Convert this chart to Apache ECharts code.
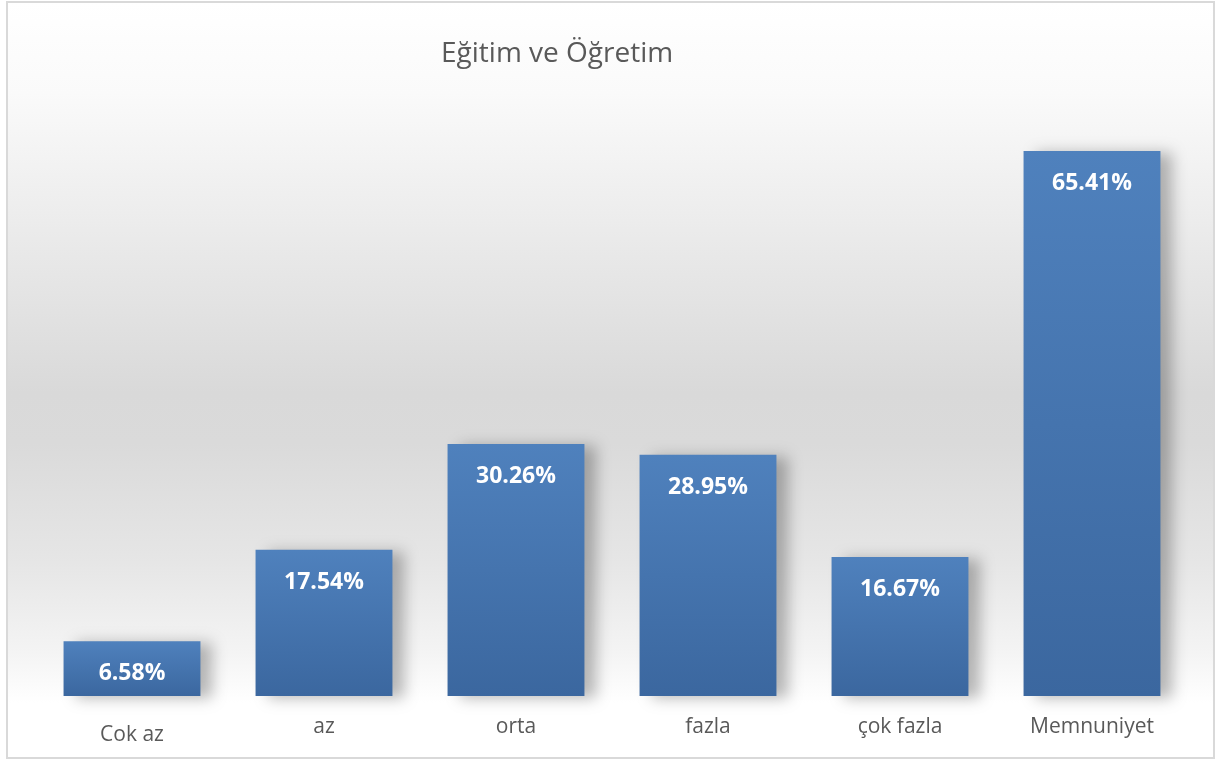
<!DOCTYPE html>
<html>
<head>
<meta charset="utf-8">
<script src="https://cdn.jsdelivr.net/npm/echarts@6/dist/echarts.min.js"></script>
<style>
html,body{margin:0;padding:0;background:#fff;}
#frame{position:absolute;left:6px;top:1px;width:1205px;height:754px;border:2px solid #d9d9d9;
background:linear-gradient(to bottom,#ffffff 0px,#fafafa 90px,#eeeeee 200px,#d9d9d9 390px,#dadada 440px,#e6e6e6 560px,#f4f4f4 650px,#ffffff 700px,#ffffff 754px);}
#chart{position:absolute;left:0;top:0;width:1216px;height:759px;}
</style>
</head>
<body>
<div id="frame"></div>
<div id="chart"></div>
<script>
const titleText = 'Eğitim ve Öğretim';
const categories = ['Cok az', 'az', 'orta', 'fazla', 'çok fazla', 'Memnuniyet'];
const values = [6.58, 17.54, 30.26, 28.95, 16.67, 65.41];

const chart = echarts.init(document.getElementById('chart'), null, {renderer: 'canvas'});
const catData = categories.map((c, i) => i === 0
  ? {value: c, textStyle: {padding: [8, 0, 0, 0]}}
  : c);
chart.setOption({
  backgroundColor: 'transparent',
  animation: false,
  title: {
    text: titleText,
    left: 436, top: 35,
    textStyle: {fontFamily: 'Open Sans', fontSize: 28, fontWeight: 'normal', color: '#595959'}
  },
  grid: {left: 36, right: 28, top: 112.8, bottom: 63},
  xAxis: {
    type: 'category',
    data: catData,
    axisLine: {show: false},
    axisTick: {show: false},
    axisLabel: {fontFamily: 'Open Sans', fontSize: 21, color: '#595959', margin: 21}
  },
  yAxis: {
    type: 'value', min: 0, max: 70,
    show: false,
    splitLine: {show: false}
  },
  series: [{
    type: 'bar',
    data: values,
    barWidth: '71.3%',
    itemStyle: {
      color: new echarts.graphic.LinearGradient(0, 0, 0, 1, [
        {offset: 0, color: '#4f81bd'},
        {offset: 1, color: '#3b679f'}
      ]),
      shadowColor: 'rgba(0,0,0,0.28)',
      shadowBlur: 14,
      shadowOffsetX: 12,
      shadowOffsetY: 2
    },
    label: {
      show: true,
      position: 'insideTop',
      distance: 21,
      formatter: p => p.value.toFixed(2) + '%',
      fontFamily: 'Open Sans', fontWeight: 'bold', fontSize: 23, color: '#ffffff'
    }
  }]
});
</script>
</body>
</html>
